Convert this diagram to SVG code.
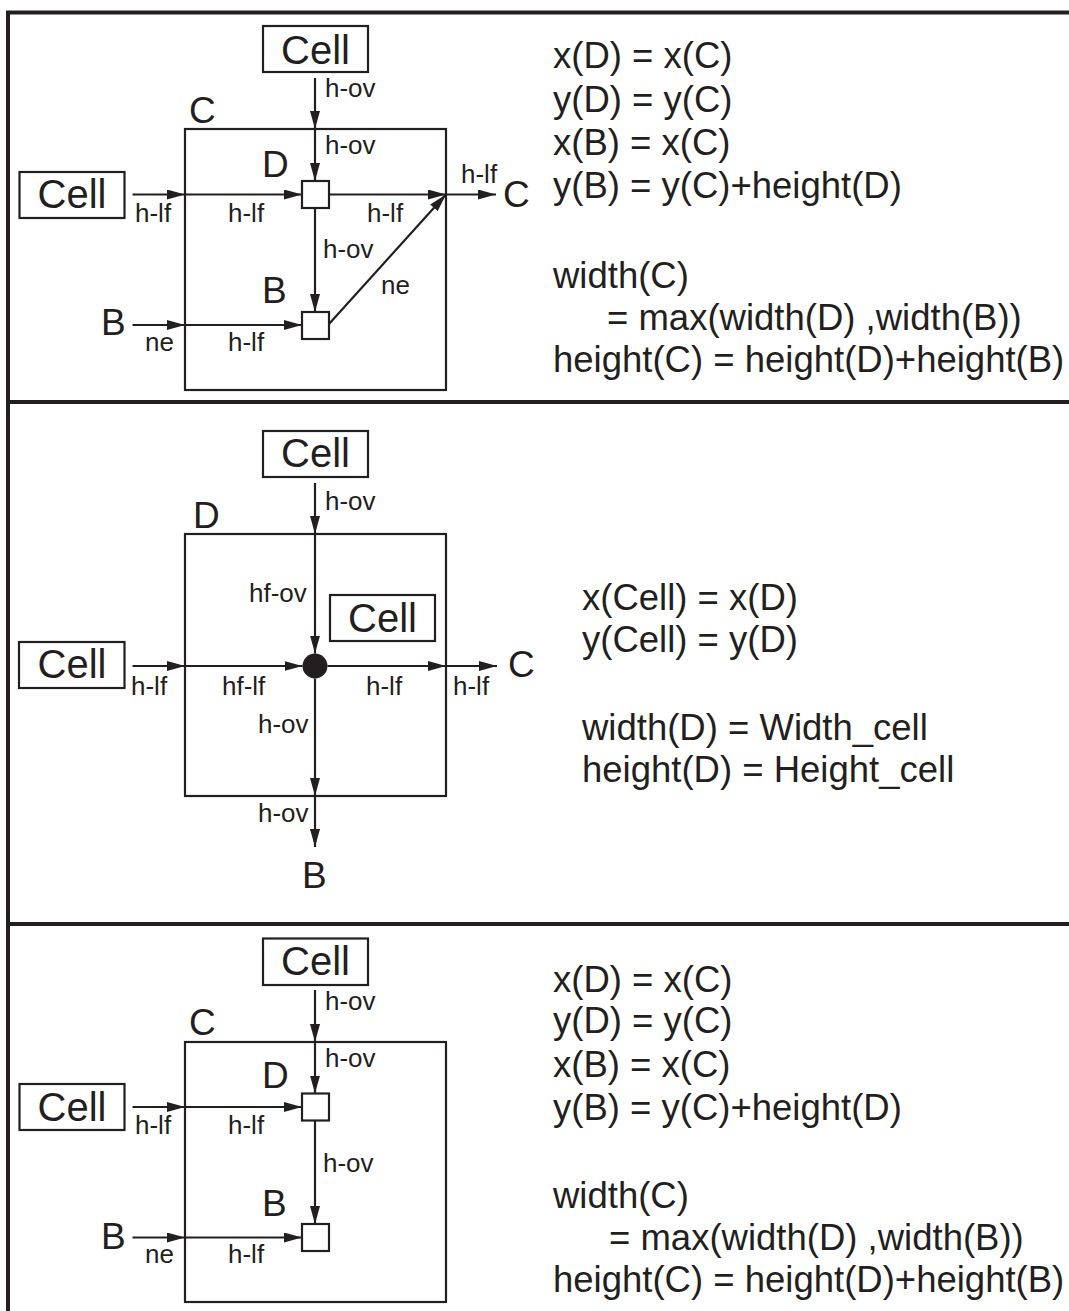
<svg xmlns="http://www.w3.org/2000/svg" width="1069" height="1311" viewBox="0 0 1069 1311">
<style>
text{font-family:"Liberation Sans",Arial,sans-serif;fill:#231f20}
.cell{font-size:40px;text-anchor:middle}
.big{font-size:37px}
.lbl{font-size:26px}
.eq{font-size:36.5px}
.box{fill:#fff;stroke:#231f20;stroke-width:2.2}
.frame{fill:none;stroke:#231f20;stroke-width:4}
.con line{stroke:#231f20;stroke-width:2.2;marker-end:url(#ah)}
</style>
<defs>
<marker id="ah" markerWidth="18" markerHeight="10" refX="18" refY="5" orient="auto" markerUnits="userSpaceOnUse">
<path d="M0,0 L18,5 L0,10 z" fill="#231f20"/>
</marker>
</defs>
<rect width="1069" height="1311" fill="#fff"/>
<g id="frame">
<path class="frame" d="M8,1311 V12.5 H1069"/>
<line class="frame" x1="8" y1="402" x2="1069" y2="402"/>
<line class="frame" x1="8" y1="924" x2="1069" y2="924"/>
</g>

<!-- Panel 1 -->
<g id="p1-C"><rect class="box" x="185" y="129" width="261" height="261"/><text class="big" x="189" y="123">C</text></g>
<g id="p1-topcell"><rect class="box" x="263" y="26" width="105" height="46"/><text class="cell" x="315.5" y="64">Cell</text></g>
<g id="p1-leftcell"><rect class="box" x="19.5" y="172" width="105" height="46"/><text class="cell" x="72" y="208">Cell</text></g>
<g id="p1-D"><rect class="box" x="302" y="181" width="27" height="27"/><text class="big" x="262" y="177">D</text></g>
<g id="p1-B"><rect class="box" x="302" y="312" width="27" height="27"/><text class="big" x="262" y="303">B</text></g>
<g id="p1-Bin"><text class="big" x="101" y="335">B</text></g>
<g id="p1-Cout"><text class="big" x="503" y="207">C</text></g>
<g id="p1-connectors" class="con">
<line x1="315" y1="78" x2="315" y2="129"/>
<line x1="315" y1="129" x2="315" y2="181"/>
<line x1="132.5" y1="194.5" x2="185" y2="194.5"/>
<line x1="185" y1="194.5" x2="302" y2="194.5"/>
<line x1="329" y1="194.5" x2="446" y2="194.5"/>
<line x1="446" y1="194.5" x2="496" y2="194.5"/>
<line x1="315" y1="208" x2="315" y2="312"/>
<line x1="329" y1="324" x2="446" y2="194.5"/>
<line x1="132.5" y1="325" x2="185" y2="325"/>
<line x1="185" y1="325" x2="302" y2="325"/>
</g>
<g id="p1-labels">
<text class="lbl" x="325" y="97">h-ov</text>
<text class="lbl" x="325" y="154">h-ov</text>
<text class="lbl" x="135" y="222">h-lf</text>
<text class="lbl" x="228" y="222">h-lf</text>
<text class="lbl" x="367" y="222">h-lf</text>
<text class="lbl" x="461" y="183">h-lf</text>
<text class="lbl" x="323" y="258">h-ov</text>
<text class="lbl" x="381" y="294">ne</text>
<text class="lbl" x="145" y="351">ne</text>
<text class="lbl" x="228" y="351">h-lf</text>
</g>
<g id="p1-equations">
<text class="eq" x="553" y="68">x(D) = x(C)</text>
<text class="eq" x="553" y="112">y(D) = y(C)</text>
<text class="eq" x="553" y="155">x(B) = x(C)</text>
<text class="eq" x="553" y="198">y(B) = y(C)+height(D)</text>
<text class="eq" x="553" y="288">width(C)</text>
<text class="eq" x="607" y="330">= max(width(D) ,width(B))</text>
<text class="eq" x="553" y="372">height(C) = height(D)+height(B)</text>
</g>

<!-- Panel 2 -->
<g id="p2-D"><rect class="box" x="185" y="534" width="261" height="262"/><text class="big" x="193" y="528">D</text></g>
<g id="p2-topcell"><rect class="box" x="263" y="431" width="105" height="46"/><text class="cell" x="315.5" y="467">Cell</text></g>
<g id="p2-leftcell"><rect class="box" x="19" y="642" width="105.5" height="46"/><text class="cell" x="72" y="678">Cell</text></g>
<g id="p2-innercell"><rect class="box" x="330" y="595" width="105" height="46"/><text class="cell" x="382.5" y="632">Cell</text></g>
<g id="p2-dot"><circle cx="315" cy="666" r="12.5" fill="#231f20"/></g>
<g id="p2-Cout"><text class="big" x="508" y="677">C</text></g>
<g id="p2-Bout"><text class="big" x="302" y="888">B</text></g>
<g id="p2-connectors" class="con">
<line x1="315" y1="483" x2="315" y2="534"/>
<line x1="315" y1="534" x2="315" y2="653.5"/>
<line x1="132.5" y1="666" x2="185" y2="666"/>
<line x1="185" y1="666" x2="302.5" y2="666"/>
<line x1="327.5" y1="666" x2="446" y2="666"/>
<line x1="446" y1="666" x2="497" y2="666"/>
<line x1="315" y1="678.5" x2="315" y2="796"/>
<line x1="315" y1="796" x2="315" y2="847"/>
</g>
<g id="p2-labels">
<text class="lbl" x="325" y="510">h-ov</text>
<text class="lbl" x="249" y="602">hf-ov</text>
<text class="lbl" x="131" y="695">h-lf</text>
<text class="lbl" x="222" y="695">hf-lf</text>
<text class="lbl" x="366" y="695">h-lf</text>
<text class="lbl" x="453" y="695">h-lf</text>
<text class="lbl" x="258" y="733">h-ov</text>
<text class="lbl" x="258" y="822">h-ov</text>
</g>
<g id="p2-equations">
<text class="eq" x="582" y="610">x(Cell) = x(D)</text>
<text class="eq" x="582" y="652">y(Cell) = y(D)</text>
<text class="eq" x="582" y="740">width(D) = Width_cell</text>
<text class="eq" x="582" y="782">height(D) = Height_cell</text>
</g>

<!-- Panel 3 -->
<g id="p3-C"><rect class="box" x="185" y="1042" width="261" height="260"/><text class="big" x="189" y="1035">C</text></g>
<g id="p3-topcell"><rect class="box" x="263" y="938.5" width="105" height="46.5"/><text class="cell" x="315.5" y="975">Cell</text></g>
<g id="p3-leftcell"><rect class="box" x="19.5" y="1084" width="105" height="46"/><text class="cell" x="72" y="1121">Cell</text></g>
<g id="p3-D"><rect class="box" x="302" y="1093.5" width="27" height="27"/><text class="big" x="262" y="1088">D</text></g>
<g id="p3-B"><rect class="box" x="302" y="1224" width="27" height="27"/><text class="big" x="262" y="1216">B</text></g>
<g id="p3-Bin"><text class="big" x="101" y="1249">B</text></g>
<g id="p3-connectors" class="con">
<line x1="315" y1="990" x2="315" y2="1042"/>
<line x1="315" y1="1042" x2="315" y2="1093.5"/>
<line x1="132.5" y1="1107" x2="185" y2="1107"/>
<line x1="185" y1="1107" x2="302" y2="1107"/>
<line x1="315" y1="1120.5" x2="315" y2="1224"/>
<line x1="132.5" y1="1237.5" x2="185" y2="1237.5"/>
<line x1="185" y1="1237.5" x2="302" y2="1237.5"/>
</g>
<g id="p3-labels">
<text class="lbl" x="325" y="1010">h-ov</text>
<text class="lbl" x="325" y="1067">h-ov</text>
<text class="lbl" x="135" y="1134">h-lf</text>
<text class="lbl" x="228" y="1134">h-lf</text>
<text class="lbl" x="323" y="1172">h-ov</text>
<text class="lbl" x="145" y="1263">ne</text>
<text class="lbl" x="228" y="1263">h-lf</text>
</g>
<g id="p3-equations">
<text class="eq" x="553" y="992">x(D) = x(C)</text>
<text class="eq" x="553" y="1033">y(D) = y(C)</text>
<text class="eq" x="553" y="1077">x(B) = x(C)</text>
<text class="eq" x="553" y="1120">y(B) = y(C)+height(D)</text>
<text class="eq" x="553" y="1208">width(C)</text>
<text class="eq" x="609" y="1250">= max(width(D) ,width(B))</text>
<text class="eq" x="553" y="1292">height(C) = height(D)+height(B)</text>
</g>
</svg>
